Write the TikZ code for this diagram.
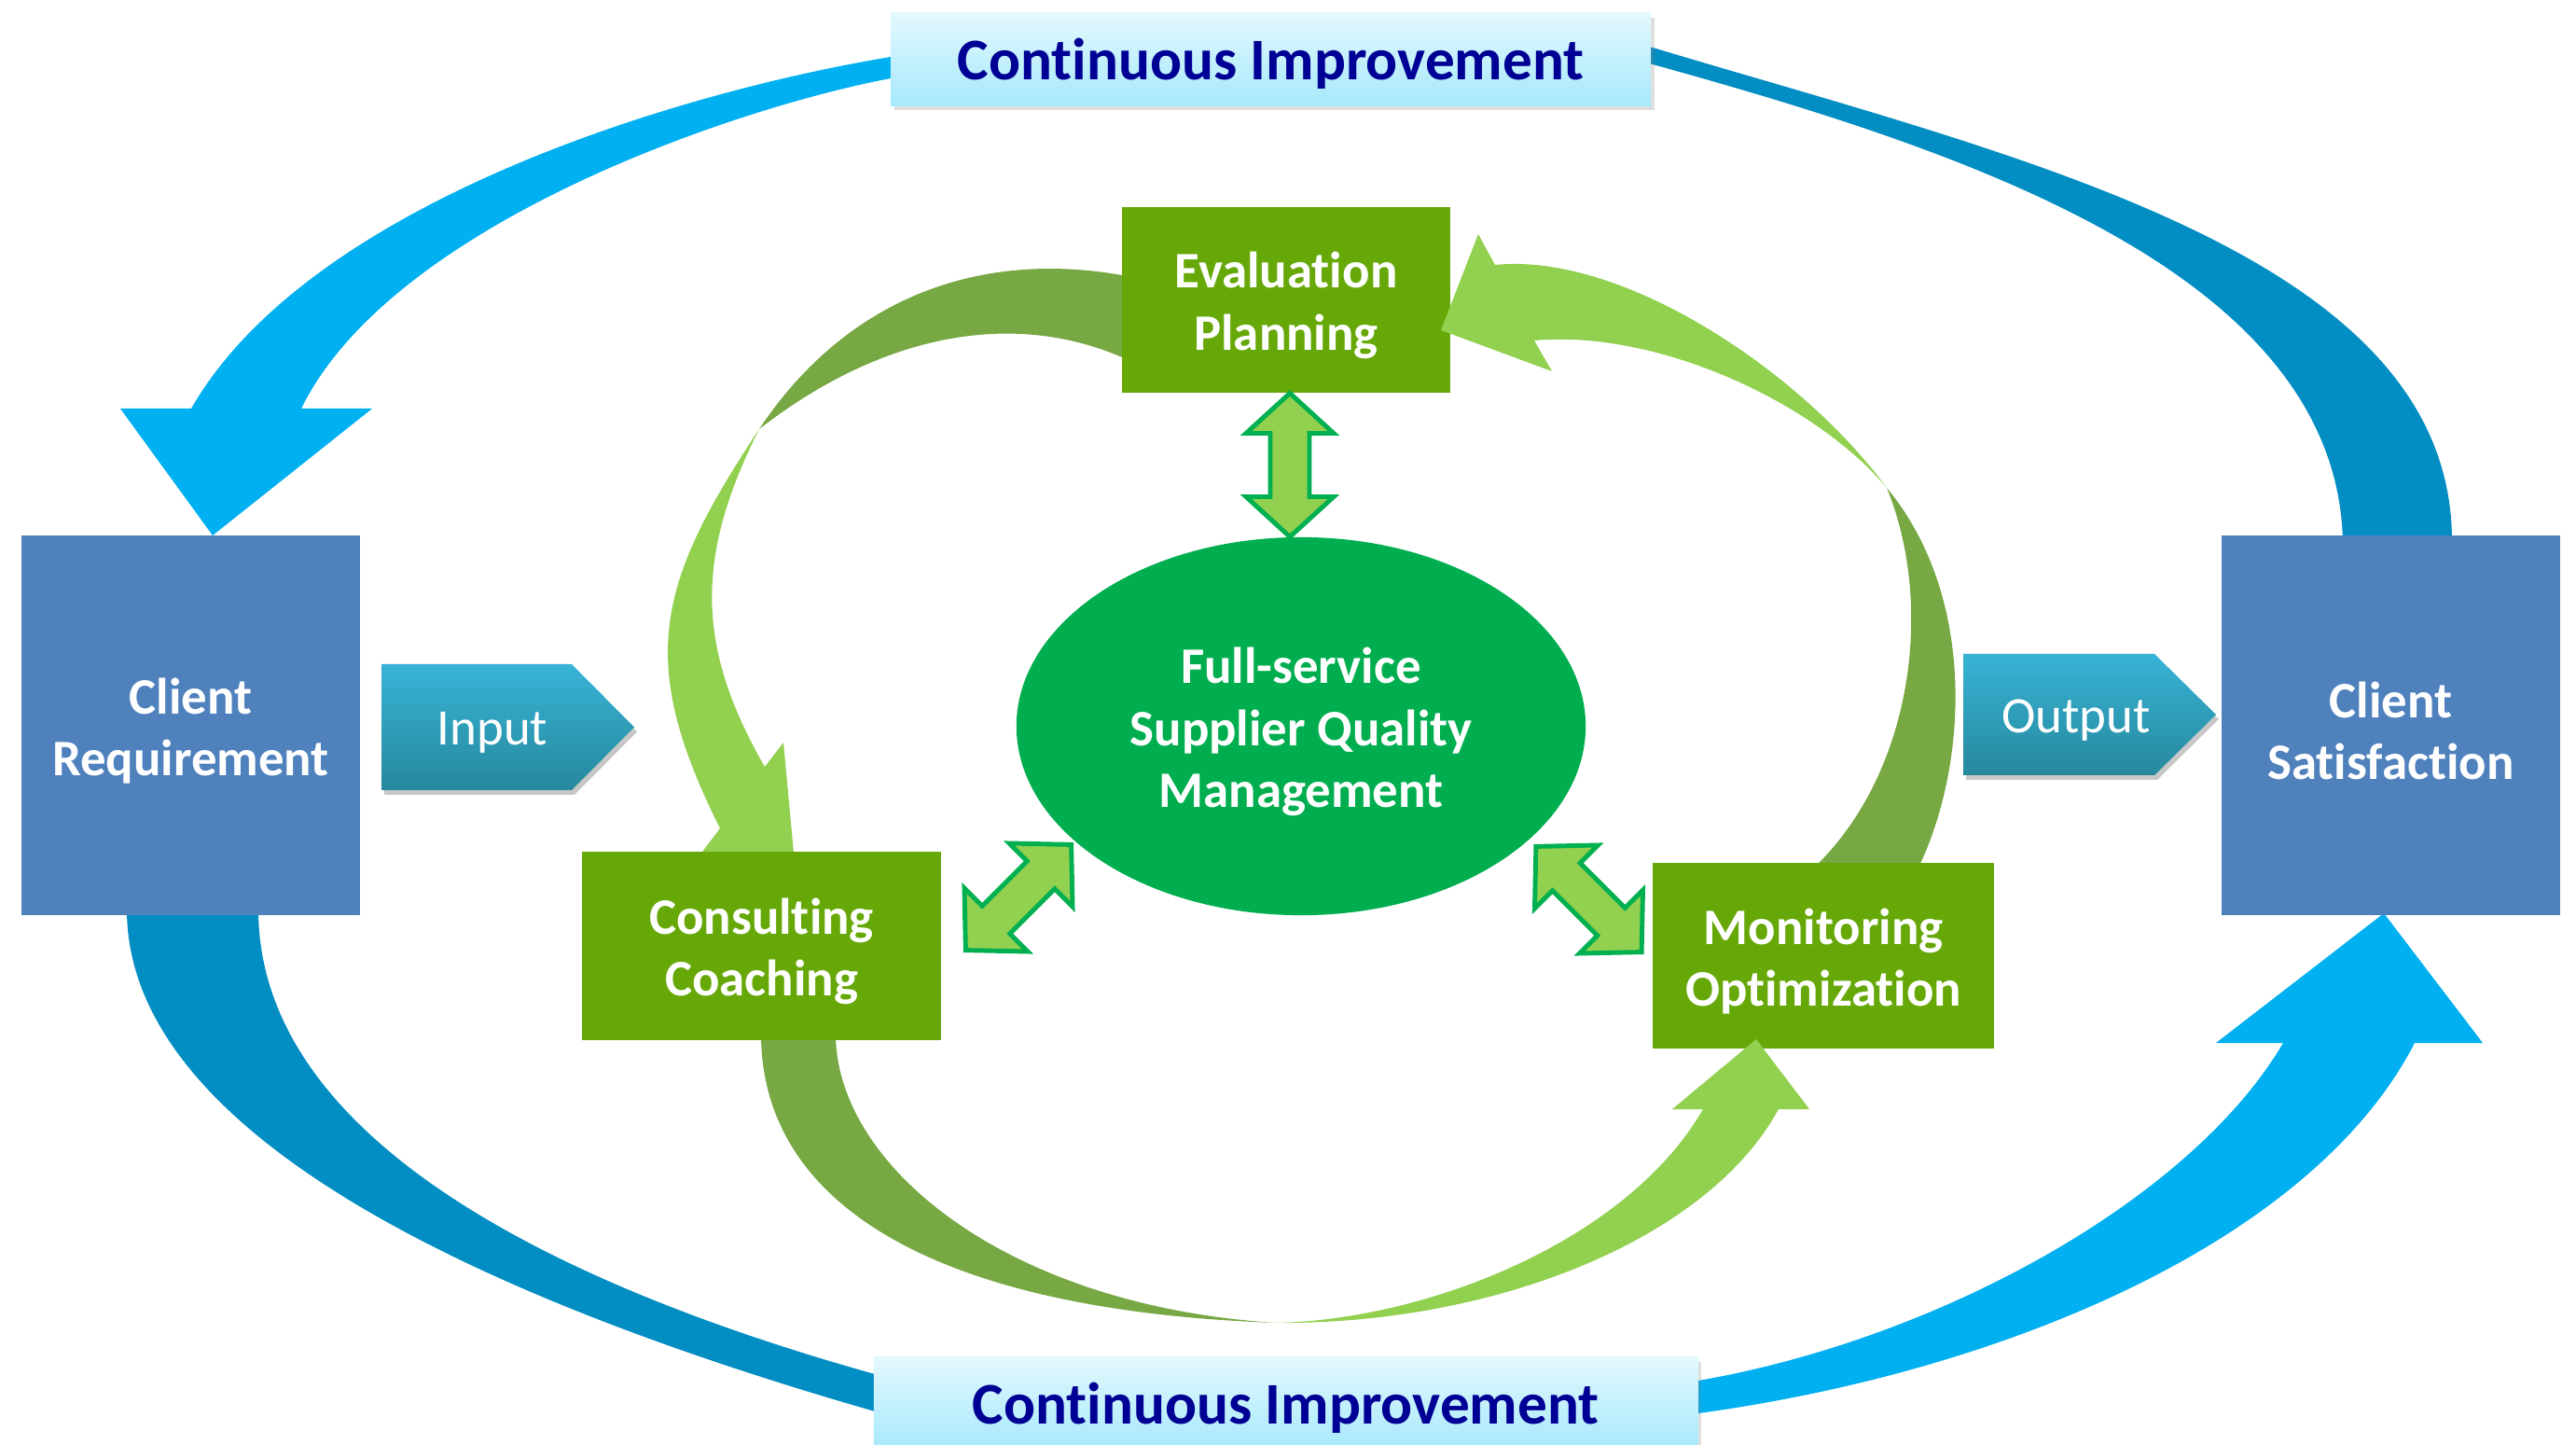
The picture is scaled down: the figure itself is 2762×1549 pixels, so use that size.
\documentclass[tikz,border=0pt]{standalone}
\usepackage{fontspec}
\setmainfont{Carlito}[Ligatures=NoCommon]
\usetikzlibrary{shadows,shapes.geometric}
\definecolor{lblue}{HTML}{00B0F0}
\definecolor{dblue}{HTML}{028DC3}
\definecolor{clientblue}{HTML}{4F81BD}
\definecolor{boxgreen}{HTML}{67A809}
\definecolor{ellgreen}{HTML}{00AE4F}
\definecolor{arcolive}{HTML}{77A843}
\definecolor{lgreen}{HTML}{92D050}
\definecolor{arrowline}{HTML}{00B050}
\definecolor{navytext}{HTML}{000094}
\definecolor{citop}{HTML}{E3F8FE}
\definecolor{cibot}{HTML}{A6E9FB}
\definecolor{iotop}{HTML}{38B3D6}
\definecolor{iobot}{HTML}{26889D}
\tikzset{
  bodytext/.style={font=\bfseries\fontsize{15.6}{19}\selectfont, text=white, align=center, inner sep=0pt},
  boxtext/.style={bodytext, yshift=-1.7pt},
  greenbox/.style={fill=boxgreen, inner sep=0pt},
  clientbox/.style={fill=clientblue, inner sep=0pt},
  ellnode/.style={ellipse, fill=ellgreen, inner sep=0pt},
  cibox/.style={top color=citop, bottom color=cibot, inner sep=0pt,
     drop shadow={opacity=0.25, shadow xshift=1.2pt, shadow yshift=-1.5pt}},
  citext/.style={font=\bfseries\fontsize{18}{22}\selectfont, text=navytext, inner sep=0pt, yshift=-1.4pt},
  dbl/.style={fill=lgreen, draw=arrowline, line width=1.4pt, line join=miter},
  iobox/.style={top color=iotop, bottom color=iobot},
  ioshadow/.style={fill=black, opacity=0.22},
  iolabel/.style={font=\fontsize{15.6}{19}\selectfont, text=white, inner sep=0pt, yshift=-1.7pt},
}
\begin{document}
\begin{tikzpicture}[x=0.01cm, y=-0.01cm]
\useasboundingbox (0,0) rectangle (2762,1549);

% ---- outer blue loop ----
\fill[lblue] (962,60) -- (955,61) .. controls (720,100) and (330,220) .. (205,438)
   -- (129,438) -- (228,574) -- (399,438) -- (323,438)
   .. controls (420,240) and (790,115) .. (955,84) -- (962,84) -- cycle;
\fill[dblue] (1765,51) -- (1772,51) .. controls (2172,171) and (2629,274) .. (2629,580)
   -- (2512,580) .. controls (2505,290) and (2100,160) .. (1772,69) -- (1765,69) -- cycle;
\fill[dblue] (136,975) .. controls (136,1230) and (560,1405) .. (945,1515)
   -- (945,1475) .. controls (620,1385) and (277,1230) .. (277,975) -- cycle;
\fill[lblue] (1815,1515) -- (1821,1515) .. controls (2150,1470) and (2480,1330) .. (2589,1118)
   -- (2662,1118) -- (2556,979) -- (2376,1118) -- (2448,1118)
   .. controls (2350,1285) and (2080,1435) .. (1821,1480) -- (1815,1480) -- cycle;

% ---- inner green cycle (parts behind boxes) ----
\fill[arcolive] (1210,295) -- (1203,295) .. controls (1050,268) and (908,319) .. (814,460)
   .. controls (940,362) and (1080,330) .. (1203,383) -- (1210,383) -- cycle;
\fill[lgreen] (814,460) .. controls (704,626) and (682,708) .. (772,888)
   -- (753,913) -- (800,930) -- (851,914) -- (840,796) -- (820,822)
   .. controls (745,692) and (746,595) .. (814,460) -- cycle;
\fill[arcolive] (2057,930) .. controls (2110,820) and (2120,640) .. (2023,523)
   .. controls (2075,650) and (2050,830) .. (1945,930) -- cycle;
\fill[arcolive] (816,1108) .. controls (816,1290) and (1000,1405) .. (1368,1418)
   .. controls (1080,1400) and (896,1250) .. (896,1108) -- cycle;

% ---- boxes ----
\node[cibox, minimum width=8.15cm, minimum height=0.99cm] (citop) at (1362.5,63.5) {};
\node[citext] (citoptext) at (citop) {Continuous Improvement};
\node[cibox, minimum width=8.83cm, minimum height=0.99cm] (cibot) at (1378.5,1504.5) {};
\node[citext] (cibottext) at (cibot) {Continuous Improvement};

\node[clientbox, minimum width=3.63cm, minimum height=4.07cm] (req) at (204.5,777.5) {};
\node[boxtext] (reqtext) at (req) {Client\\Requirement};
\node[clientbox, minimum width=3.63cm, minimum height=4.07cm] (sat) at (2563.5,777.5) {};
\node[boxtext] (sattext) at (sat) {Client\\Satisfaction};

\fill[ioshadow] (412,717) -- (616,717) -- (683,784.5) -- (616,852) -- (412,852) -- cycle;
\path[iobox] (409,712) -- (613,712) -- (680,779.5) -- (613,847) -- (409,847) -- cycle;
\node[iolabel] (input) at (528,779.5) {Input};

\fill[ioshadow] (2108,706) -- (2313,706) -- (2379,771) -- (2313,836) -- (2108,836) -- cycle;
\path[iobox] (2105,701) -- (2310,701) -- (2376,766) -- (2310,831) -- (2105,831) -- cycle;
\node[iolabel] (output) at (2226,766) {Output};

\node[greenbox, minimum width=3.52cm, minimum height=1.99cm] (eval) at (1379,321.5) {};
\node[boxtext] (evaltext) at (eval) {Evaluation\\Planning};
\node[greenbox, minimum width=3.85cm, minimum height=2.02cm] (cons) at (816.5,1014) {};
\node[boxtext] (constext) at (cons) {Consulting\\Coaching};
\node[greenbox, minimum width=3.66cm, minimum height=1.99cm] (mon) at (1955,1024.5) {};
\node[boxtext] (montext) at (mon) {Monitoring\\Optimization};

\node[ellnode, minimum width=6.1cm, minimum height=4.05cm] (ell) at (1395,778.5) {};
\node[boxtext] (elltext) at (ell) {Full-service\\Supplier Quality\\Management};

% ---- double arrows ----
\draw[dbl] (1383,421.5) -- (1430,464.5) -- (1404,464.5) -- (1404,532.5) -- (1430,532.5)
   -- (1383,575.5) -- (1336,532.5) -- (1362,532.5) -- (1362,464.5) -- (1336,464.5) -- cycle;
\draw[dbl] (1148.6,905.4) -- (1150.0,971.9) -- (1130.9,952.8) -- (1082.8,1000.9) -- (1101.9,1020.0)
   -- (1035.4,1018.6) -- (1034.0,952.1) -- (1053.1,971.2) -- (1101.2,923.1) -- (1082.1,904.0) -- cycle;
\draw[dbl] (1760.1,1020.6) -- (1693.6,1022.0) -- (1712.7,1002.9) -- (1664.6,954.8) -- (1645.5,973.9)
   -- (1646.9,907.4) -- (1713.4,906.0) -- (1694.3,925.1) -- (1742.4,973.2) -- (1761.5,954.1) -- cycle;

% ---- inner green cycle (parts over boxes) ----
\fill[lgreen] (2023,523) .. controls (1932,399) and (1740,270) .. (1603,284)
   -- (1585,251) -- (1545,354) -- (1664,398) -- (1645,365)
   .. controls (1775,353) and (1945,430) .. (2023,523) -- cycle;
\fill[lgreen] (1368,1418) .. controls (1600,1420) and (1830,1330) .. (1907,1189)
   -- (1940,1189) -- (1883,1114) -- (1793,1189) -- (1826,1189)
   .. controls (1745,1330) and (1530,1415) .. (1368,1418) -- cycle;
\end{tikzpicture}
\end{document}
